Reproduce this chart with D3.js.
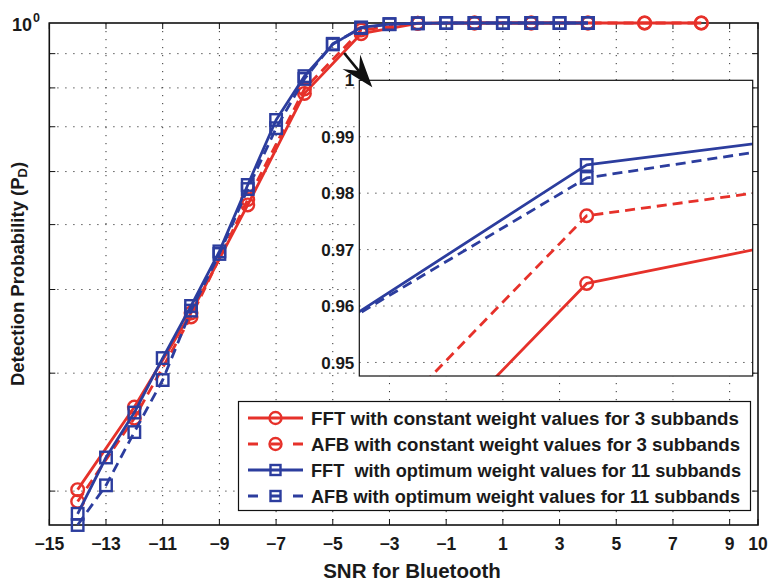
<!DOCTYPE html>
<html>
<head>
<meta charset="utf-8">
<script src="https://cdn.jsdelivr.net/npm/d3@7"></script>
<style>
  html, body { margin: 0; padding: 0; background: #fff; }
  svg { display: block; }
  text { font-family: "Liberation Sans", Arial, Helvetica, sans-serif; font-weight: bold; fill: #1a1a1a; }
</style>
</head>
<body>
<div id="chart"></div>
<script>
// ---------------- data ----------------
const snrRed  = [-14, -12, -10, -8, -6, -4, -2, 0, 2, 4, 6, 8];
const fftConst = [0.201, 0.267, 0.369, 0.535, 0.785, 0.964, 0.999, 1, 1, 1, 1, 1];
const afbConst = [0.193, 0.257, 0.364, 0.545, 0.797, 0.976, 0.9995, 1, 1, 1, 1, 1];

const snrBlue = [-14, -13, -12, -11, -10, -9, -8, -7, -6, -5, -4, -3, -2, -1, 0, 1, 2, 3, 4];
const fftOpt = [0.185, 0.2245, 0.262, 0.316, 0.378, 0.456, 0.573, 0.7165, 0.833, 0.929, 0.985, 0.996, 0.999, 1, 1, 1, 1, 1, 1];
const afbOpt = [0.178, 0.204, 0.245, 0.293, 0.372, 0.452, 0.565, 0.6965, 0.825, 0.931, 0.9827, 0.996, 0.999, 1, 1, 1, 1, 1, 1];

const legendLabels = [
  "FFT with constant weight values for 3 subbands",
  "AFB with constant weight values for 3 subbands",
  "FFT  with optimum weight values for 11 subbands",
  "AFB with optimum weight values for 11 subbands"
];

const xTickValues = [-15, -13, -11, -9, -7, -5, -3, -1, 1, 3, 5, 7, 9, 10];
const yMinorTicks = [0.2, 0.3, 0.4, 0.5, 0.6, 0.7, 0.8, 0.9];
const insetTicks = [0.95, 0.96, 0.97, 0.98, 0.99, 1];
const insetTickLabels = ["0.95", "0.96", "0.97", "0.98", "0.99", "1"];

const xLabel = "SNR for Bluetooth";
const yLabel = "Detection Probability (P";
const yLabelSub = "D";

// ---------------- styling ----------------
const RED = "#e6312a", BLUE = "#2c3d9e";
const W = 772, H = 582;
const M = { left: 49.3, right: 758, top: 23, bottom: 525 };
const INSET = { left: 359.3, right: 752.7, top: 80.3, bottom: 376 };

const series = [
  { x: snrRed,  y: fftConst, color: RED,  dash: null,   marker: "circle", label: legendLabels[0] },
  { x: snrRed,  y: afbConst, color: RED,  dash: "10,6", marker: "circle", label: legendLabels[1] },
  { x: snrBlue, y: fftOpt,   color: BLUE, dash: null,   marker: "square", label: legendLabels[2] },
  { x: snrBlue, y: afbOpt,   color: BLUE, dash: "10,6", marker: "square", label: legendLabels[3] }
];

const svg = d3.select("#chart").append("svg").attr("width", W).attr("height", H);

const x = d3.scaleLinear().domain([-15, 10]).range([M.left, M.right]);
const y = d3.scaleLog().domain([0.178, 1]).range([M.bottom, M.top]);

const gridStyle = g => g.attr("stroke", "#333").attr("stroke-width", 1).attr("stroke-dasharray", "1.2,6.8");

// main grid
const grid = svg.append("g");
xTickValues.filter(v => v > -15 && v < 10).forEach(v => {
  grid.append("line").attr("x1", x(v)).attr("x2", x(v)).attr("y1", M.top).attr("y2", M.bottom).call(gridStyle);
});
yMinorTicks.forEach(v => {
  grid.append("line").attr("x1", M.left).attr("x2", M.right).attr("y1", y(v)).attr("y2", y(v)).call(gridStyle);
});

// ticks (inward)
const ticks = svg.append("g").attr("stroke", "#111").attr("stroke-width", 1);
xTickValues.forEach(v => {
  ticks.append("line").attr("x1", x(v)).attr("x2", x(v)).attr("y1", M.bottom).attr("y2", M.bottom - 6);
  ticks.append("line").attr("x1", x(v)).attr("x2", x(v)).attr("y1", M.top).attr("y2", M.top + 6);
});
yMinorTicks.forEach(v => {
  ticks.append("line").attr("x1", M.left).attr("x2", M.left + 6).attr("y1", y(v)).attr("y2", y(v));
  ticks.append("line").attr("x1", M.right).attr("x2", M.right - 6).attr("y1", y(v)).attr("y2", y(v));
});

// box
svg.append("rect").attr("x", M.left).attr("y", M.top)
  .attr("width", M.right - M.left).attr("height", M.bottom - M.top)
  .attr("fill", "none").attr("stroke", "#111").attr("stroke-width", 1.6);

// tick labels
const fmt = v => (v < 0 ? "\u2212" + Math.abs(v) : String(v));
svg.append("g").selectAll("text").data(xTickValues).join("text")
  .attr("x", d => x(d)).attr("y", 549.5).attr("text-anchor", "middle")
  .style("font-size", "17.5px").text(fmt);

// y label 10^0
svg.append("text").attr("x", 32).attr("y", y(1) + 8).attr("text-anchor", "end").style("font-size", "18px").text("10");
svg.append("text").attr("x", 33).attr("y", y(1) - 1).style("font-size", "12.5px").text("0");

// axis labels
svg.append("text").attr("x", 412).attr("y", 578).attr("text-anchor", "middle")
  .style("font-size", "20.5px").text(xLabel);
const yl = svg.append("text").attr("transform", "translate(24,274) rotate(-90)")
  .attr("text-anchor", "middle").style("font-size", "18.5px");
yl.append("tspan").text(yLabel);
yl.append("tspan").attr("baseline-shift", "-25%").style("font-size", "13px").text(yLabelSub);
yl.append("tspan").text(")");

// drawing helpers
function drawMarkers(g, s, xs, ys, filterFn) {
  const pts = s.x.map((xv, i) => [xv, s.y[i]]).filter(filterFn || (() => true));
  if (s.marker === "circle") {
    g.selectAll(null).data(pts).join("circle")
      .attr("cx", d => xs(d[0])).attr("cy", d => ys(d[1])).attr("r", 6.3)
      .attr("fill", "none").attr("stroke", s.color).attr("stroke-width", 2.4);
  } else {
    const a = 11.5;
    g.selectAll(null).data(pts).join("rect")
      .attr("x", d => xs(d[0]) - a / 2).attr("y", d => ys(d[1]) - a / 2)
      .attr("width", a).attr("height", a)
      .attr("fill", "none").attr("stroke", s.color).attr("stroke-width", 2.4);
  }
}
function drawLine(g, s, xs, ys) {
  const line = d3.line().x((d, i) => xs(s.x[i])).y(d => ys(d));
  g.append("path").datum(s.y).attr("d", line)
    .attr("fill", "none").attr("stroke", s.color).attr("stroke-width", 2.8)
    .attr("stroke-linejoin", "round")
    .attr("stroke-dasharray", s.dash);
}

// main series
const main = svg.append("g");
series.forEach(s => {
  const g = main.append("g");
  drawLine(g, s, x, y);
  drawMarkers(g, s, x, y);
});

// ---------------- inset ----------------
const xi = d3.scaleLinear().domain([-4.4641, -3.6612]).range([INSET.left, INSET.right]);
const yi = d3.scaleLinear().domain([0.9476, 1]).range([INSET.bottom, INSET.top]);

svg.append("defs").append("clipPath").attr("id", "insetClip")
  .append("rect").attr("x", INSET.left).attr("y", INSET.top)
  .attr("width", INSET.right - INSET.left).attr("height", INSET.bottom - INSET.top);

const inset = svg.append("g");
inset.append("rect").attr("x", INSET.left).attr("y", INSET.top)
  .attr("width", INSET.right - INSET.left).attr("height", INSET.bottom - INSET.top)
  .attr("fill", "#fff");
insetTicks.forEach(v => {
  if (v < 1) inset.append("line").attr("x1", INSET.left).attr("x2", INSET.right)
    .attr("y1", yi(v)).attr("y2", yi(v)).call(gridStyle);
});
const insetPlot = inset.append("g").attr("clip-path", "url(#insetClip)");
series.forEach(s => drawLine(insetPlot.append("g"), s, xi, yi));
series.forEach(s => drawMarkers(inset.append("g"), s, xi, yi,
  d => d[0] >= xi.domain()[0] && d[0] <= xi.domain()[1]));
inset.append("rect").attr("x", INSET.left).attr("y", INSET.top)
  .attr("width", INSET.right - INSET.left).attr("height", INSET.bottom - INSET.top)
  .attr("fill", "none").attr("stroke", "#111").attr("stroke-width", 1.2);
inset.selectAll(null).data(insetTicks).join("text")
  .attr("x", INSET.left - 5).attr("y", d => yi(d)).attr("dy", "0.36em")
  .attr("text-anchor", "end").style("font-size", "17px")
  .text((d, i) => insetTickLabels[i]);

// arrow annotation: from main curve region to inset corner
const aStart = [x(-4.6), y(0.902)];
const aTip = [INSET.left + 13, INSET.top + 7];
const dx = aTip[0] - aStart[0], dy = aTip[1] - aStart[1], len = Math.hypot(dx, dy);
const ux = dx / len, uy = dy / len, nx = -uy, ny = ux;
const L = 33, Wd = 11.5, Ln = 21;
const head = [
  aTip,
  [aTip[0] - L * ux + Wd * nx, aTip[1] - L * uy + Wd * ny],
  [aTip[0] - Ln * ux, aTip[1] - Ln * uy],
  [aTip[0] - L * ux - Wd * nx, aTip[1] - L * uy - Wd * ny]
];
svg.append("line").attr("x1", aStart[0]).attr("y1", aStart[1])
  .attr("x2", aTip[0] - Ln * ux).attr("y2", aTip[1] - Ln * uy)
  .attr("stroke", "#111").attr("stroke-width", 2.6);
svg.append("polygon").attr("points", head.map(p => p.join(",")).join(" ")).attr("fill", "#111");

// ---------------- legend ----------------
const LG = { x: 238.5, y: 401.5, w: 512, h: 109 };
const lg = svg.append("g");
lg.append("rect").attr("x", LG.x).attr("y", LG.y).attr("width", LG.w).attr("height", LG.h)
  .attr("fill", "#fff").attr("stroke", "#111").attr("stroke-width", 1.2);
const rowY = i => 418 + i * 26;
const rowWidths = [428, 429, 430, 429];
series.forEach((s, i) => {
  const cy = rowY(i);
  lg.append("line").attr("x1", 248).attr("x2", 303).attr("y1", cy).attr("y2", cy)
    .attr("stroke", s.color).attr("stroke-width", 2.8)
    .attr("stroke-dasharray", s.dash ? "10,12.5" : null);
  if (s.marker === "circle") {
    lg.append("circle").attr("cx", 275.5).attr("cy", cy).attr("r", 6)
      .attr("fill", "none").attr("stroke", s.color).attr("stroke-width", 2.4);
  } else {
    lg.append("rect").attr("x", 275.5 - 5).attr("y", cy - 5).attr("width", 10).attr("height", 10)
      .attr("fill", "none").attr("stroke", s.color).attr("stroke-width", 2.4);
  }
  lg.append("text").attr("x", 311).attr("y", cy).attr("dy", "0.36em")
    .style("font-size", "18.6px").style("white-space", "pre")
    .attr("textLength", rowWidths[i]).attr("lengthAdjust", "spacingAndGlyphs")
    .text(s.label);
});
</script>
</body>
</html>
